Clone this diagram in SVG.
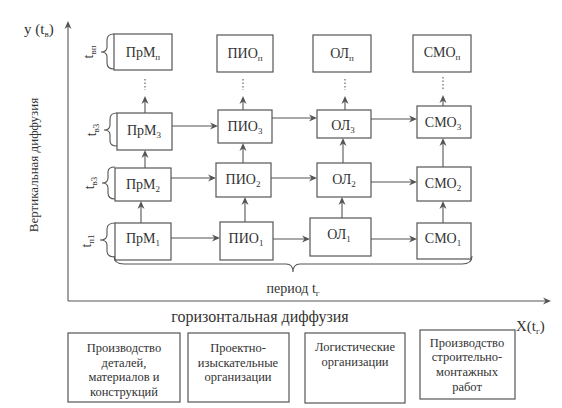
<svg xmlns="http://www.w3.org/2000/svg" width="562" height="408" viewBox="0 0 562 408">
<defs>
<path id="ar" d="M0,0 L-8,-3.5 L-5.5,0 L-8,3.5 Z" fill="#555"/>
<path id="au" d="M0,0 L-3.5,8 L0,5.5 L3.5,8 Z" fill="#555"/>
</defs>
<style>
text{fill:#333;font-family:'Liberation Serif',serif;}
.n{font-size:14px;text-anchor:middle;}
.b rect{fill:none;stroke:#555;stroke-width:1.2;}
.c line{stroke:#555;stroke-width:1.1;fill:none;}
.d{stroke:#555;stroke-width:1.1;stroke-dasharray:1.5,2;fill:none;}
.br{stroke:#555;stroke-width:1.1;fill:none;}
.s{font-size:9px;}
.bt{font-size:12.5px;text-anchor:middle;}
</style>
<rect width="562" height="408" fill="#fff"/>

<g id="axes" class="c">
<line x1="68" y1="301" x2="68" y2="24"/>
<line x1="68" y1="301" x2="548" y2="301"/>
<use href="#au" x="68" y="21"/>
<use href="#ar" x="551" y="301"/>
</g>
<text font-family="Liberation Serif" x="24" y="34" font-size="15">y (t<tspan class="s" dy="3">в</tspan><tspan dy="-3">)</tspan></text>
<text font-family="Liberation Serif" x="516" y="331" font-size="15">X(t<tspan class="s" dy="3">г</tspan><tspan dy="-3">)</tspan></text>
<text font-family="Liberation Serif" x="260" y="322" font-size="16" text-anchor="middle">горизонтальная диффузия</text>
<text font-family="Liberation Serif" transform="translate(38,165) rotate(-90)" font-size="13" text-anchor="middle">Вертикальная диффузия</text>

<g id="connectors" class="c">
<line x1="172" y1="126" x2="216" y2="126"/><use href="#ar" x="218" y="126"/>
<line x1="272" y1="118" x2="315" y2="118"/><use href="#ar" x="317" y="118"/>
<line x1="371" y1="119" x2="415" y2="119"/><use href="#ar" x="417" y="119"/>
<line x1="171" y1="178" x2="214" y2="178"/><use href="#ar" x="216" y="178"/>
<line x1="271" y1="178" x2="315" y2="178"/><use href="#ar" x="317" y="178"/>
<line x1="371" y1="182" x2="415" y2="182"/><use href="#ar" x="417" y="182"/>
<line x1="171" y1="238" x2="218" y2="238"/><use href="#ar" x="220" y="238"/>
<line x1="273" y1="239" x2="308" y2="239"/><use href="#ar" x="310" y="239"/>
<line x1="371" y1="239" x2="415" y2="239"/><use href="#ar" x="417" y="239"/>
<line x1="141" y1="223" x2="141" y2="203"/><use href="#au" x="141" y="201"/>
<line x1="145" y1="168" x2="145" y2="152"/><use href="#au" x="145" y="150"/>
<line x1="145" y1="113" x2="145" y2="98"/><use href="#au" x="145" y="96"/>
<line x1="245" y1="222" x2="245" y2="199"/><use href="#au" x="245" y="197"/>
<line x1="243" y1="163" x2="243" y2="145"/><use href="#au" x="243" y="143"/>
<line x1="243" y1="110" x2="243" y2="98"/><use href="#au" x="243" y="96"/>
<line x1="342" y1="218" x2="342" y2="199"/><use href="#au" x="342" y="197"/>
<line x1="343" y1="163" x2="343" y2="140"/><use href="#au" x="343" y="138"/>
<line x1="345" y1="110" x2="345" y2="98"/><use href="#au" x="345" y="96"/>
<line x1="443" y1="223" x2="443" y2="203"/><use href="#au" x="443" y="201"/>
<line x1="443" y1="167" x2="443" y2="140"/><use href="#au" x="443" y="138"/>
<line x1="443" y1="106" x2="443" y2="97"/><use href="#au" x="443" y="95"/>
<line class="d" x1="145" y1="79" x2="145" y2="90"/>
<line class="d" x1="243" y1="79" x2="243" y2="90"/>
<line class="d" x1="345" y1="79" x2="345" y2="90"/>
<line class="d" x1="443" y1="77" x2="443" y2="89"/>
</g>

<g id="brackets">
<path class="br" d="M114,34 Q107,34 107,40 L107,47 Q107,52 101,52 Q107,52 107,57 L107,63 Q107,69 114,69"/>
<path class="br" d="M117,113 Q110,113 110,119 L110,125 Q110,130 104,130 Q110,130 110,135 L110,141 Q110,146 117,146"/>
<path class="br" d="M115,167 Q108,167 108,172 L108,178 Q108,183 102,183 Q108,183 108,188 L108,193 Q108,199 115,199"/>
<path class="br" d="M115,223 Q107,223 107,229 L107,235 Q107,240 100,240 Q107,240 107,245 L107,251 Q107,257 115,257"/>
<path class="br" d="M114,256 Q114,264 124,264 L286,264 Q293,264 293,272 Q293,264 300,264 L462,264 Q472,264 472,256"/>
<text font-family="Liberation Serif" transform="translate(93,52) rotate(-90)" font-size="14" text-anchor="middle">t<tspan class="s" dy="3">вп</tspan></text>
<text font-family="Liberation Serif" transform="translate(96,130) rotate(-90)" font-size="14" text-anchor="middle">t<tspan class="s" dy="3">в3</tspan></text>
<text font-family="Liberation Serif" transform="translate(94,183) rotate(-90)" font-size="14" text-anchor="middle">t<tspan class="s" dy="3">в3</tspan></text>
<text font-family="Liberation Serif" transform="translate(91,241) rotate(-90)" font-size="14" text-anchor="middle">t<tspan class="s" dy="3">п1</tspan></text>
<text font-family="Liberation Serif" x="293" y="293" font-size="14" text-anchor="middle">период t<tspan class="s" dy="3">г</tspan></text>
</g>

<g id="PrMn" class="b"><rect x="114" y="34" width="58" height="36"/><text font-family="Liberation Serif" class="n" x="143" y="57">ПрМ<tspan class="s" dy="3">п</tspan></text></g>
<g id="PIOn" class="b"><rect x="217" y="35" width="56" height="37"/><text font-family="Liberation Serif" class="n" x="245" y="58">ПИО<tspan class="s" dy="3">п</tspan></text></g>
<g id="OLn" class="b"><rect x="313" y="35" width="58" height="37"/><text font-family="Liberation Serif" class="n" x="342" y="58">ОЛ<tspan class="s" dy="3">п</tspan></text></g>
<g id="SMOn" class="b"><rect x="413" y="35" width="58" height="37"/><text font-family="Liberation Serif" class="n" x="442" y="57">СМО<tspan class="s" dy="3">п</tspan></text></g>
<g id="PrM3" class="b"><rect x="117" y="113" width="55" height="37"/><text font-family="Liberation Serif" class="n" x="144" y="135">ПрМ<tspan class="s" dy="3">3</tspan></text></g>
<g id="PIO3" class="b"><rect x="218" y="110" width="54" height="33"/><text font-family="Liberation Serif" class="n" x="245" y="131">ПИО<tspan class="s" dy="3">3</tspan></text></g>
<g id="OL3" class="b"><rect x="317" y="110" width="54" height="28"/><text font-family="Liberation Serif" class="n" x="343" y="130">ОЛ<tspan class="s" dy="3">3</tspan></text></g>
<g id="SMO3" class="b"><rect x="417" y="106" width="54" height="32"/><text font-family="Liberation Serif" class="n" x="443" y="127">СМО<tspan class="s" dy="3">3</tspan></text></g>
<g id="PrM2" class="b"><rect x="115" y="168" width="56" height="33"/><text font-family="Liberation Serif" class="n" x="143" y="189">ПрМ<tspan class="s" dy="3">2</tspan></text></g>
<g id="PIO2" class="b"><rect x="216" y="163" width="55" height="34"/><text font-family="Liberation Serif" class="n" x="243" y="184">ПИО<tspan class="s" dy="3">2</tspan></text></g>
<g id="OL2" class="b"><rect x="317" y="163" width="54" height="34"/><text font-family="Liberation Serif" class="n" x="344" y="184">ОЛ<tspan class="s" dy="3">2</tspan></text></g>
<g id="SMO2" class="b"><rect x="417" y="167" width="54" height="34"/><text font-family="Liberation Serif" class="n" x="443" y="188">СМО<tspan class="s" dy="3">2</tspan></text></g>
<g id="PrM1" class="b"><rect x="115" y="223" width="56" height="37"/><text font-family="Liberation Serif" class="n" x="143" y="243">ПрМ<tspan class="s" dy="3">1</tspan></text></g>
<g id="PIO1" class="b"><rect x="220" y="222" width="53" height="38"/><text font-family="Liberation Serif" class="n" x="246" y="243">ПИО<tspan class="s" dy="3">1</tspan></text></g>
<g id="OL1" class="b"><rect x="310" y="218" width="61" height="38"/><text font-family="Liberation Serif" class="n" x="339" y="239">ОЛ<tspan class="s" dy="3">1</tspan></text></g>
<g id="SMO1" class="b"><rect x="417" y="223" width="54" height="36"/><text font-family="Liberation Serif" class="n" x="443" y="243">СМО<tspan class="s" dy="3">1</tspan></text></g>

<g id="box1" class="b"><rect x="68" y="333" width="112" height="69"/>
<text font-family="Liberation Serif" class="bt" x="124" y="352">Производство</text><text font-family="Liberation Serif" class="bt" x="124" y="367">деталей,</text><text font-family="Liberation Serif" class="bt" x="124" y="381">материалов и</text><text font-family="Liberation Serif" class="bt" x="124" y="396">конструкций</text></g>
<g id="box2" class="b"><rect x="188" y="333" width="101" height="69"/>
<text font-family="Liberation Serif" class="bt" x="238" y="352">Проектно-</text><text font-family="Liberation Serif" class="bt" x="238" y="367">изыскательные</text><text font-family="Liberation Serif" class="bt" x="238" y="381">организации</text></g>
<g id="box3" class="b"><rect x="305" y="333" width="100" height="70"/>
<text font-family="Liberation Serif" class="bt" x="355" y="351">Логистические</text><text font-family="Liberation Serif" class="bt" x="355" y="366">организации</text></g>
<g id="box4" class="b"><rect x="420" y="330" width="95" height="69"/>
<text font-family="Liberation Serif" class="bt" x="467" y="347">Производство</text><text font-family="Liberation Serif" class="bt" x="467" y="361">строительно-</text><text font-family="Liberation Serif" class="bt" x="467" y="376">монтажных</text><text font-family="Liberation Serif" class="bt" x="467" y="391">работ</text></g>
</svg>
